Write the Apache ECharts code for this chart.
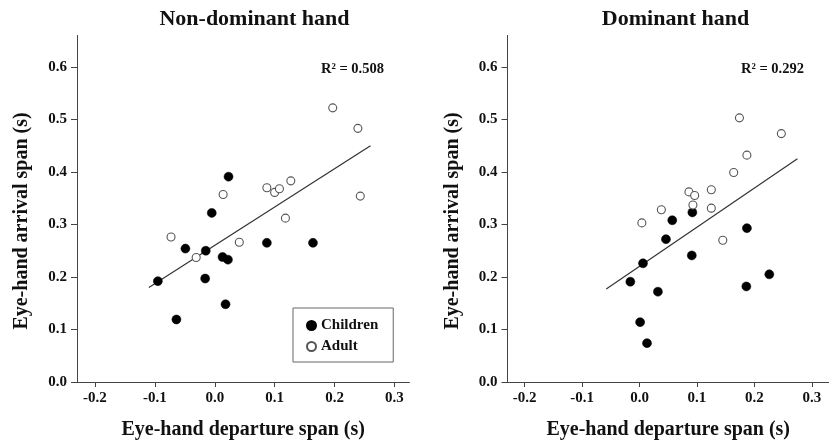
<!DOCTYPE html>
<html>
<head>
<meta charset="utf-8">
<script src="https://cdn.jsdelivr.net/npm/echarts@6/dist/echarts.min.js"></script>
<style>html,body{margin:0;padding:0;background:#fff;}#c{width:829px;height:445px;}</style>
</head>
<body>
<div id="c"></div>
<script>
// ---- data ----
const xTicks = [-0.2, -0.1, 0.0, 0.1, 0.2, 0.3];
const yTicks = [0.0, 0.1, 0.2, 0.3, 0.4, 0.5, 0.6];

const ndChildren = [[-0.095,0.192],[-0.064,0.119],[-0.049,0.254],[-0.015,0.250],[-0.016,0.197],[-0.005,0.322],[0.013,0.238],[0.022,0.233],[0.018,0.148],[0.023,0.391],[0.087,0.265],[0.164,0.265]];
const ndAdult = [[-0.073,0.276],[-0.031,0.237],[0.014,0.357],[0.041,0.266],[0.087,0.370],[0.100,0.361],[0.108,0.368],[0.127,0.383],[0.118,0.312],[0.197,0.522],[0.239,0.483],[0.243,0.354]];
const ndFit = [[-0.110,0.180],[0.260,0.450]];
const ndR2 = 'R² = 0.508';

const dChildren = [[-0.016,0.191],[0.001,0.114],[0.013,0.074],[0.006,0.226],[0.032,0.172],[0.046,0.272],[0.057,0.308],[0.092,0.323],[0.091,0.241],[0.187,0.293],[0.186,0.182],[0.226,0.205]];
const dAdult = [[0.004,0.303],[0.038,0.328],[0.086,0.362],[0.096,0.355],[0.093,0.337],[0.125,0.366],[0.125,0.331],[0.145,0.270],[0.164,0.399],[0.174,0.503],[0.187,0.432],[0.247,0.473]];
const dFit = [[-0.058,0.177],[0.275,0.425]];
const dR2 = 'R² = 0.292';

const panelTitles = ['Non-dominant hand', 'Dominant hand'];
const xName = 'Eye-hand departure span (s)';
const yName = 'Eye-hand arrival span (s)';
const groupNames = ['Children', 'Adult'];

// ---- styling ----
const FONT = "'Liberation Serif','Times New Roman',serif";
const INK = '#111';
const AX = '#444';

function xAxis(gi) {
  return {
    type: 'value', gridIndex: gi, min: -0.23, max: gi === 0 ? 0.325 : 0.33,
    splitLine: {show: false},
    axisLine: {onZero: false, lineStyle: {color: AX, width: 1}},
    axisTick: {show: true, customValues: xTicks, length: 5, inside: false, lineStyle: {color: AX}},
    axisLabel: {customValues: xTicks, margin: 9, color: INK, fontFamily: FONT, fontWeight: 'bold', fontSize: 15,
      formatter: v => v.toFixed(1)},
    name: xName, nameLocation: 'middle', nameGap: 38,
    nameTextStyle: {color: INK, fontFamily: FONT, fontWeight: 'bold', fontSize: 20}
  };
}
function yAxis(gi) {
  return {
    type: 'value', gridIndex: gi, min: 0, max: 0.66,
    splitLine: {show: false},
    axisLine: {show: true, onZero: false, lineStyle: {color: AX, width: 1}},
    axisTick: {show: true, customValues: yTicks, length: 6, lineStyle: {color: AX}},
    axisLabel: {customValues: yTicks, margin: 10, color: INK, fontFamily: FONT, fontWeight: 'bold', fontSize: 15,
      formatter: v => v.toFixed(1)}
  };
}
function scatter(name, data, gi, filled) {
  return {
    type: 'scatter', name: name, xAxisIndex: gi, yAxisIndex: gi, data: data,
    symbol: 'circle', symbolSize: filled ? 9 : 8,
    itemStyle: filled ? {color: '#000', borderColor: '#000', borderWidth: 0.5, opacity: 1}
                      : {color: '#fff', borderColor: '#555', borderWidth: 1.1, opacity: 1},
    emphasis: {disabled: true}, z: 3
  };
}
function fit(data, gi) {
  return {
    type: 'line', name: 'fit' + gi, xAxisIndex: gi, yAxisIndex: gi, data: data,
    symbol: 'none', lineStyle: {color: '#333', width: 1.2}, silent: true, z: 2
  };
}
const txt = (s, size) => ({color: INK, fontFamily: FONT, fontWeight: 'bold', fontSize: size});

const chart = echarts.init(document.getElementById('c'), null, {renderer: 'canvas'});
chart.setOption({
  animation: false,
  backgroundColor: '#fff',
  grid: [
    {left: 77, top: 35.4, width: 332.4, height: 351.3},
    {left: 507.5, top: 35.4, width: 335, height: 351.3}
  ],
  xAxis: [xAxis(0), xAxis(1)],
  yAxis: [yAxis(0), yAxis(1)],
  title: [
    {text: panelTitles[0], left: 254.5, top: 8, textAlign: 'center', padding: 0, textStyle: txt(null, 22)},
    {text: panelTitles[1], left: 675.5, top: 8, textAlign: 'center', padding: 0, textStyle: txt(null, 22)},
    {text: ndR2, left: 321, top: 62, padding: 0, textStyle: txt(null, 14.5)},
    {text: dR2, left: 741, top: 62, padding: 0, textStyle: txt(null, 14.5)}
  ],
  legend: {
    data: groupNames, orient: 'vertical', left: 293, top: 308,
    itemWidth: 9, itemHeight: 9, itemGap: 6, itemTextGap: 10,
    padding: [10, 15, 8, 13], borderColor: '#666', borderWidth: 1,
    textStyle: txt(null, 15), selectedMode: false
  },
  graphic: [
    {type: 'text', x: 22, y: 221, rotation: Math.PI / 2,
      style: {text: yName, align: 'center', verticalAlign: 'middle', fill: INK, font: "bold 20px 'Liberation Serif','Times New Roman',serif"}},
    {type: 'text', x: 453, y: 221, rotation: Math.PI / 2,
      style: {text: yName, align: 'center', verticalAlign: 'middle', fill: INK, font: "bold 20px 'Liberation Serif','Times New Roman',serif"}}
  ],
  series: [
    fit(ndFit, 0), fit(dFit, 1),
    scatter(groupNames[0], ndChildren, 0, true),
    scatter(groupNames[1], ndAdult, 0, false),
    scatter(groupNames[0], dChildren, 1, true),
    scatter(groupNames[1], dAdult, 1, false)
  ]
});
</script>
</body>
</html>
